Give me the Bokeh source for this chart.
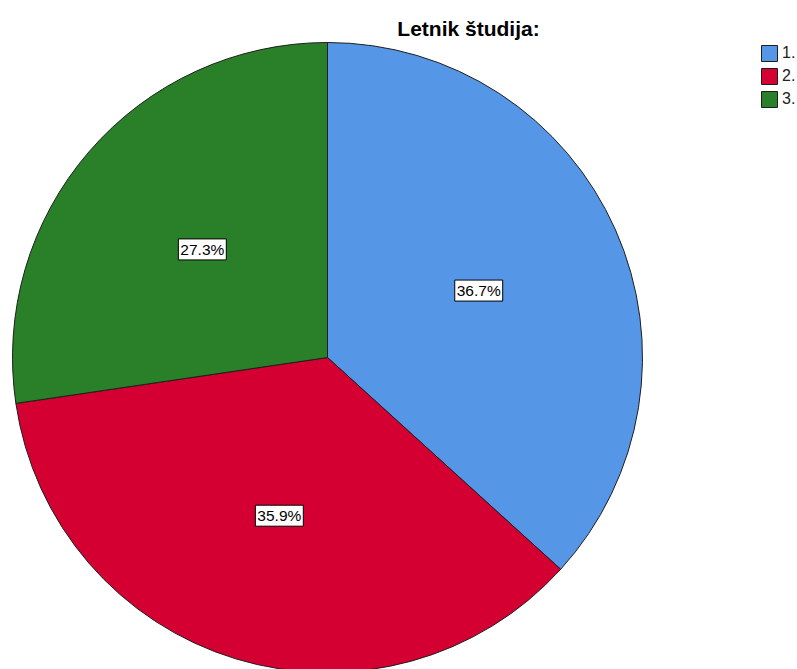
import math
from bokeh.plotting import figure
from bokeh.models import Range1d, Label, Legend, LegendItem, ColumnDataSource
from bokeh.embed import file_html
from bokeh.resources import INLINE

title_text = "Letnik študija:"
categories = ["1.", "2.", "3."]
percents = [36.7, 35.9, 27.3]
colors = ["#5596E6", "#D40032", "#2A8029"]

W, H = 797, 669
p = figure(width=W, height=H, x_range=Range1d(0, W), y_range=Range1d(0, H),
           output_backend="svg", toolbar_location=None, min_border=0)
p.axis.visible = False
p.grid.visible = False
p.outline_line_color = None
p.background_fill_color = "white"
p.border_fill_color = "white"

cx, cy, R = 327, H - 357, 315
total = sum(percents)
starts, ends, mids = [], [], []
acc = 0.0
for v in percents:
    a0 = 90 - acc / total * 360
    acc += v
    a1 = 90 - acc / total * 360
    starts.append(math.radians(a0))
    ends.append(math.radians(a1))
    mids.append(math.radians((a0 + a1) / 2))

src = ColumnDataSource(dict(start=starts, end=ends, color=colors, cat=categories))
r = p.wedge(x=cx, y=cy, radius=R, start_angle="start", end_angle="end",
            direction="clock", fill_color="color", line_color="#1e1e1e",
            line_width=1, source=src)

for v, m in zip(percents, mids):
    lab = Label(x=cx + 0.525 * R * math.cos(m), y=cy + 0.525 * R * math.sin(m),
                text=f"{v}%", text_align="center", text_baseline="middle",
                text_font="Liberation Sans", text_font_size="15.5px", text_color="black",
                background_fill_color="white", border_line_color="black",
                border_line_width=1, padding=2)
    p.add_layout(lab)

p.add_layout(Label(x=468, y=H - 28, text=title_text, text_align="center",
                   text_baseline="middle", text_font="Liberation Sans",
                   text_font_size="21px", text_font_style="bold", text_color="black"))

items = [LegendItem(label=c, renderers=[r], index=i) for i, c in enumerate(categories)]
legend = Legend(items=items, location=(759, H - 43 - 66), orientation="vertical",
                glyph_width=20, glyph_height=20, label_height=20, spacing=3,
                label_standoff=3, padding=0, margin=0,
                label_text_font="Liberation Sans", label_text_font_size="16px",
                label_text_color="#222222",
                border_line_color=None, background_fill_alpha=0)
p.add_layout(legend, "center")

open("out.html", "w").write(file_html(p, INLINE))
